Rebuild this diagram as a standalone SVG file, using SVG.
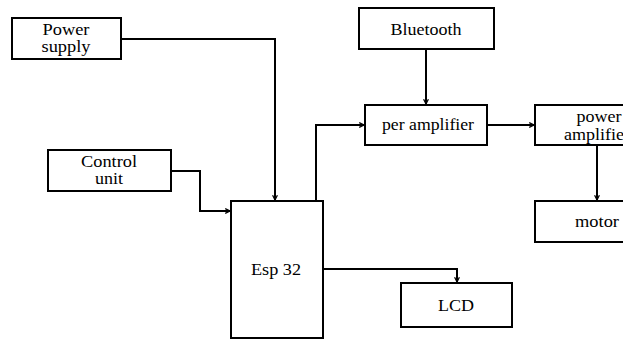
<svg xmlns="http://www.w3.org/2000/svg" width="623" height="339" viewBox="0 0 623 339">
<style>
.box{fill:#fff;stroke:#000;stroke-width:2}
.lbl{font-family:"Liberation Serif","Times New Roman",serif;font-size:16px;fill:#000;text-anchor:middle}
.con{fill:none;stroke:#000;stroke-width:2}
</style>
<defs>
<marker id="arr" viewBox="0 0 10 10" refX="9" refY="5" markerWidth="6" markerHeight="6" orient="auto" markerUnits="userSpaceOnUse">
<path d="M1,1 L9,5 L1,9" fill="none" stroke="#000" stroke-width="2"/>
</marker>
</defs>
<rect width="623" height="339" fill="#fff"/>
<g id="connectors">
<path class="con" d="M121,39 H275 V200" marker-end="url(#arr)"/>
<path class="con" d="M171,171 H200 V211 H230" marker-end="url(#arr)"/>
<path class="con" d="M316,201 V125 H364" marker-end="url(#arr)"/>
<path class="con" d="M426,49 V104" marker-end="url(#arr)"/>
<path class="con" d="M487,125 H534" marker-end="url(#arr)"/>
<path class="con" d="M597,145 V200" marker-end="url(#arr)"/>
<path class="con" d="M323,269 H457 V282" marker-end="url(#arr)"/>
</g>
<g id="power-supply">
<rect class="box" x="12" y="18" width="109" height="41"/>
<text class="lbl" x="66" y="35" textLength="47" lengthAdjust="spacingAndGlyphs">Power</text>
<text class="lbl" x="66" y="52" textLength="49" lengthAdjust="spacingAndGlyphs">supply</text>
</g>
<g id="control-unit">
<rect class="box" x="48" y="150" width="123" height="41"/>
<text class="lbl" x="109" y="167" textLength="56" lengthAdjust="spacingAndGlyphs">Control</text>
<text class="lbl" x="109" y="184" textLength="28" lengthAdjust="spacingAndGlyphs">unit</text>
</g>
<g id="esp32">
<rect class="box" x="231" y="201" width="92" height="137"/>
<text class="lbl" x="276" y="275" textLength="50" lengthAdjust="spacingAndGlyphs">Esp 32</text>
</g>
<g id="bluetooth">
<rect class="box" x="359" y="8" width="135" height="41"/>
<text class="lbl" x="426" y="35" textLength="71" lengthAdjust="spacingAndGlyphs">Bluetooth</text>
</g>
<g id="pre-amplifier">
<rect class="box" x="365" y="105" width="122" height="40"/>
<text class="lbl" x="428" y="130" textLength="92" lengthAdjust="spacingAndGlyphs">per amplifier</text>
</g>
<g id="power-amplifier">
<rect class="box" x="535" y="105" width="124" height="40"/>
<text class="lbl" x="599" y="122" textLength="45" lengthAdjust="spacingAndGlyphs">power</text>
<text class="lbl" x="597" y="140" textLength="66" lengthAdjust="spacingAndGlyphs">amplifier</text>
</g>
<g id="motor">
<rect class="box" x="535" y="201" width="124" height="41"/>
<text class="lbl" x="597" y="227" textLength="44" lengthAdjust="spacingAndGlyphs">motor</text>
</g>
<g id="lcd">
<rect class="box" x="401" y="283" width="111" height="44"/>
<text class="lbl" x="456" y="311" textLength="36" lengthAdjust="spacingAndGlyphs">LCD</text>
</g>
</svg>
